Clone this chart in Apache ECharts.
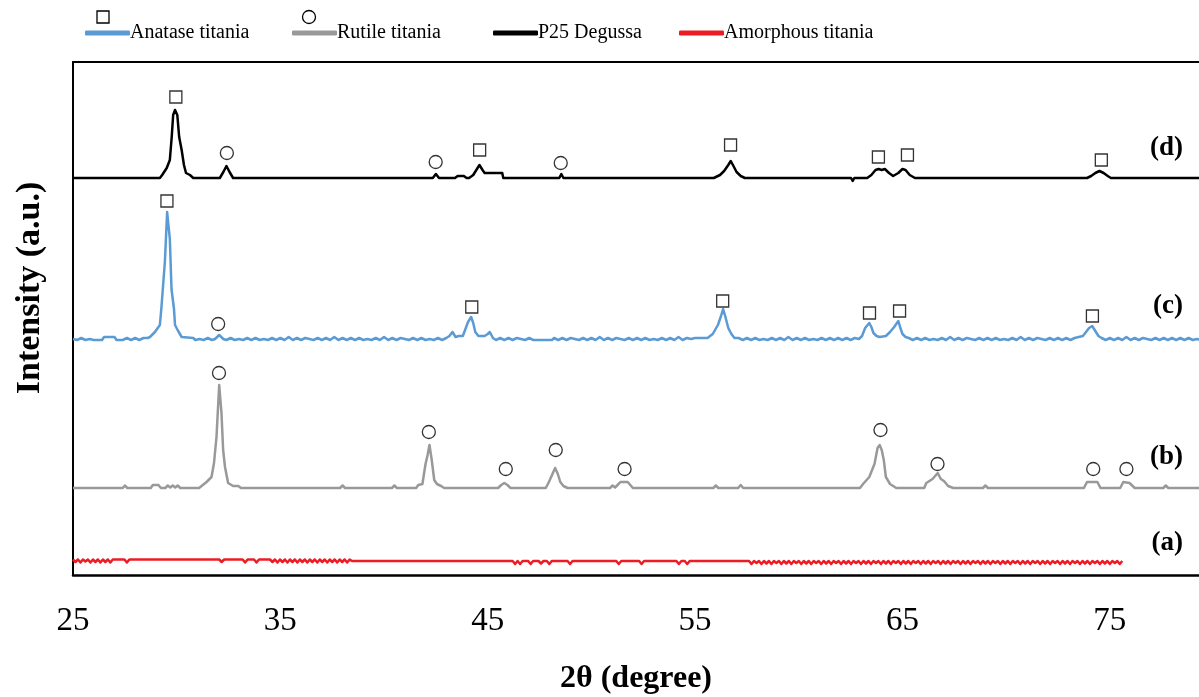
<!DOCTYPE html>
<html>
<head>
<meta charset="utf-8">
<script src="https://cdn.jsdelivr.net/npm/echarts@6/dist/echarts.min.js"></script>
<style>
  html, body { margin: 0; padding: 0; background: #fff; }
  #chart { width: 1199px; height: 697px; }
</style>
</head>
<body>
<div id="chart"></div>
<script>
// XRD patterns of four titania samples, stacked with a vertical offset.
const FONT = '"Liberation Serif", "DejaVu Serif", serif';

const seriesNames = ['Anatase titania', 'Rutile titania', 'P25 Degussa', 'Amorphous titania'];
const seriesColors = ['#5B9BD5', '#999999', '#000000', '#ED1C24'];
const panelTags = ['(c)', '(b)', '(d)', '(a)'];
// baseline of each pattern on the intensity axis (a.u.)
const stackOffsets = [235, 87, 397, 14];

// [2θ (degree), intensity above own baseline (a.u.)]
const anataseTrace = [
  [25.0,1],[25.2,0],[25.4,2],[25.6,0],[25.8,1],[26.0,0],[26.4,0],[26.5,3],[27.0,3],[27.1,0],[27.4,0],[27.6,2],
  [27.8,0],[28.0,2],[28.2,0],[28.4,2],[28.6,2],[28.71,3],[28.95,8],[29.19,15],[29.27,34],[29.43,78],[29.54,128],
  [29.67,101],[29.75,51],[29.87,31],[29.92,15],[30.07,9],[30.24,3],[30.8,2],[30.9,0],[31.1,1],[31.3,0],
  [31.5,2],[31.7,0],[31.85,1],[32.05,5],[32.25,1],[32.4,0],[32.6,2],[32.8,0],[33.0,1],[33.2,0],[33.4,2],[33.6,0],
  [33.8,2],[34.0,0],[34.2,1],[34.4,0],[34.6,2],[34.8,0],[35.0,2],[35.2,0],[35.4,3],[35.6,0],[35.8,2],[36.0,0],
  [36.2,2],[36.4,1],[36.6,0],[36.8,2],[37.0,0],[37.2,2],[37.4,0],[37.6,3],[37.8,0],[38.0,2],[38.2,0],[38.4,2],
  [38.6,0],[38.8,2],[39.0,0],[39.2,1],[39.4,0],[39.6,2],[39.8,0],[40.0,3],[40.2,0],[40.4,2],[40.6,0],[40.8,2],
  [41.0,1],[41.2,0],[41.4,2],[41.6,0],[41.8,2],[42.0,0],[42.2,1],[42.4,0],[42.6,2],[42.8,0],[43.0,2],[43.15,4],
  [43.3,8],[43.45,3],[43.6,4],[43.8,4],[44.05,18],[44.2,23],[44.3,17],[44.4,8],[44.55,4],[44.85,4],[45.0,6],
  [45.1,8],[45.25,2],[45.4,0],[45.6,2],[45.8,0],[46.0,2],[46.2,0],[46.4,2],[46.6,1],[46.8,0],[47.0,2],[47.2,0],
  [48.1,0],[48.2,2],[48.4,0],[48.6,2],[48.8,0],[49.0,2],[49.2,1],[49.4,0],[49.6,2],[49.8,0],[50.0,2],[50.2,0],
  [50.4,3],[50.6,0],[50.8,2],[51.0,0],[51.2,2],[51.4,1],[51.6,0],[51.8,2],[52.0,0],[52.2,2],[52.4,0],[52.6,2],
  [52.8,0],[53.0,1],[53.2,0],[53.4,2],[53.6,0],[53.8,2],[54.0,0],[54.2,3],[54.4,0],[54.6,2],[54.8,1],[55.0,2],
  [55.6,2],[55.85,6],[56.1,15],[56.25,24],[56.35,31],[56.45,24],[56.6,12],[56.75,6],[56.9,2],[57.1,2],[57.3,0],
  [57.5,2],[57.7,0],[57.9,2],[58.1,0],[58.3,1],[58.5,0],[58.7,2],[58.9,0],[59.1,2],[59.3,0],[59.5,3],[59.7,0],
  [59.9,2],[60.1,0],[60.3,2],[60.5,0],[60.7,1],[60.9,0],[61.1,2],[61.3,0],[61.5,2],[61.7,0],[61.9,2],[62.1,0],
  [62.3,2],[62.5,0],[62.7,2],[62.9,1],[63.05,4],[63.2,12],[63.4,17],[63.5,13],[63.6,7],[63.75,4],[63.9,3],
  [64.2,4],[64.4,8],[64.6,13],[64.8,19],[64.9,12],[65.0,6],[65.15,3],[65.3,2],[65.5,0],[65.7,2],[65.9,0],
  [66.1,2],[66.3,0],[66.5,1],[66.7,0],[66.9,2],[67.1,0],[67.3,3],[67.5,0],[67.7,2],[67.9,0],[68.1,2],[68.3,1],
  [68.5,0],[68.7,2],[68.9,0],[69.1,2],[69.3,0],[69.5,2],[69.7,0],[69.9,1],[70.1,0],[70.3,2],[70.5,0],[70.7,3],
  [70.9,0],[71.1,2],[71.3,0],[71.5,2],[71.7,1],[71.9,0],[72.1,2],[72.3,0],[72.5,2],[72.7,0],[72.9,2],[73.1,0],
  [73.3,2],[73.5,3],[73.7,4],[73.85,8],[74.0,12],[74.15,14],[74.3,9],[74.45,4],[74.6,2],[74.8,0],[75.0,2],
  [75.2,0],[75.4,2],[75.6,0],[75.8,3],[76.0,0],[76.2,2],[76.4,0],[76.6,2],[76.8,1],[77.0,0],[77.2,2],[77.4,0],
  [77.6,2],[77.8,0],[78.0,2],[78.2,0],[78.4,2],[78.6,0],[78.8,2],[79.0,0],[79.2,1],[79.4,0],[79.6,2],[79.8,0],[80.0,2]
];

const rutileTrace = [
  [25,0],[27.4,0],[27.5,2.5],[27.62,0],[28.75,0],[28.85,3],[29.12,3],[29.24,0],[29.45,0],[29.57,2.5],[29.69,0.5],
  [29.81,2.5],[29.93,0.5],[30.05,2.5],[30.17,0],[31.08,0],[31.2,2],[31.44,6],[31.68,11],[31.8,25],
  [31.92,51],[32.05,103],[32.16,75],[32.24,38],[32.33,21],[32.48,5],[32.72,2],[32.97,2],[33.1,0],[37.88,0],
  [38.0,2.5],[38.12,0],[40.38,0],[40.5,2.5],[40.62,0],[41.55,0],[41.65,3],[41.85,4],[42.0,24],[42.1,33],[42.19,43],
  [42.3,28],[42.42,8],[42.55,4],[42.75,2],[42.9,0],[45.5,0],[45.65,3],[45.8,5],[45.95,3],[46.1,0],[47.8,0],
  [47.95,6],[48.1,13],[48.25,20],[48.38,14],[48.5,6],[48.65,2],[48.85,0],[50.9,0],[51.02,2.5],[51.14,0.5],[51.26,3],
  [51.4,6],[51.75,6],[52.0,0],[55.88,0],[56.0,2.5],[56.12,0],[57.08,0],[57.2,3],[57.32,0],[62.95,0],[63.1,4],
  [63.4,11],[63.65,24],[63.8,40],[63.9,43],[64.0,38],[64.1,28],[64.2,11],[64.4,4],[64.7,0],[66.05,0],[66.15,5],
  [66.45,9],[66.7,15],[66.85,9],[67.0,7],[67.2,2],[67.45,0],[68.88,0],[69.0,2.5],[69.12,0],[73.75,0],[73.9,6],
  [74.4,6],[74.55,0],[75.5,0],[75.65,6],[75.95,5],[76.2,0],[77.58,0],[77.7,2.5],[77.82,0],[80,0]
];

const p25Trace = [
  [25,0],[29.19,0],[29.3,3],[29.52,10],[29.67,18],[29.76,41],[29.83,63],[29.92,68],[30.03,63],[30.12,41],
  [30.24,28],[30.35,13],[30.45,5],[30.64,3],[30.8,0],[32.08,0],[32.25,6],[32.4,12],[32.55,6],[32.72,0],
  [42.35,0],[42.5,4],[42.65,0],[43.42,0],[43.55,2],[43.85,2],[43.98,0],[44.1,0],[44.3,3],[44.45,8],[44.6,13],
  [44.75,8],[44.85,5],[45.7,5],[45.75,0],[48.45,0],[48.55,4],[48.65,0],[55.9,0],[56.2,3],[56.4,7],[56.6,13],
  [56.72,17],[56.85,12],[57.0,6],[57.2,2],[57.4,0],[62.52,0],[62.6,-3],[62.68,0],[63.3,0],[63.5,3],[63.7,8],
  [63.85,9],[64.0,8],[64.15,9],[64.35,5],[64.55,2],[64.8,5],[65.0,9],[65.15,8],[65.35,3],[65.6,0],[73.9,0],
  [74.1,2],[74.3,5],[74.5,7],[74.7,5],[74.9,2],[75.05,0],[80,0]
];

const amorphousTrace = [
  [25.0,1.5],[25.12,-1],[25.24,1.5],[25.36,-1.5],[25.48,1.5],[25.6,-0.5],[25.72,1.5],[25.84,-1.5],[25.96,1.5],
  [26.08,-1],[26.2,1.5],[26.32,-1.5],[26.44,1.5],[26.56,-1],[26.68,1.5],[26.8,-1.5],[26.92,1.5],[27.48,1.5],
  [27.6,-1.5],[27.72,1.5],[32.05,1.5],[32.17,-1],[32.29,1.5],[33.18,1.5],[33.3,-1.5],[33.42,1.5],[33.73,1.5],
  [33.85,-1.5],[33.97,1.5],[34.5,1.5],[34.62,-1],[34.74,1.5],[34.86,-1.5],[34.98,1.5],[35.1,-1],[35.22,1.5],
  [35.34,-1.5],[35.46,1.5],[35.58,-1],[35.7,1.5],[35.82,-1.5],[35.94,1.5],[36.06,-1],[36.18,1.5],[36.3,-1.5],
  [36.42,1.5],[36.54,-1],[36.66,1.5],[36.78,-1.5],[36.9,1.5],[37.02,-1],[37.14,1.5],[37.26,-1.5],[37.38,1.5],
  [37.5,-1],[37.62,1.5],[37.74,-1.5],[37.86,1.5],[37.98,-1],[38.1,1.5],[38.22,-1.5],[38.34,1.5],[38.46,0],
  [46.2,0],[46.32,-3],[46.44,0],[46.56,-3],[46.68,0],[46.95,0],[47.07,-3],[47.19,0],[47.45,0],[47.57,-2.5],
  [47.69,0],[47.85,0],[47.97,-3],[48.09,0],[48.85,0],[48.97,-3],[49.09,0],[51.2,0],[51.32,-3],[51.44,0],
  [52.3,0],[52.42,-3],[52.54,0],[54.1,0],[54.22,-3],[54.34,0],[54.5,0],[54.62,-3],[54.74,0],
  [57.6,0],[57.72,-3],[57.84,0],[57.96,-2],[58.08,0],[58.2,-3],[58.32,0],[58.44,-2.5],[58.56,0],[58.68,-3],
  [58.8,0],[58.92,-2],[59.04,0],[59.16,-3],[59.28,0],[59.4,-2.5],[59.52,0],[59.64,-3],[59.76,0],[59.88,-2],
  [60.0,0],[60.12,-3],[60.24,0],[60.36,-2.5],[60.48,0],[60.6,-3],[60.72,0],[60.84,-2],[60.96,0],[61.08,-3],
  [61.2,0],[61.32,-2.5],[61.44,0],[61.56,-3],[61.68,0],[61.8,-2],[61.92,0],[62.04,-3],[62.16,0],[62.28,-2.5],
  [62.4,0],[62.52,-3],[62.64,0],[62.76,-2],[62.88,0],[63.0,-3],[63.12,0],[63.24,-2.5],[63.36,0],[63.48,-3],
  [63.6,0],[63.72,-2],[63.84,0],[63.96,-3],[64.08,0],[64.2,-2.5],[64.32,0],[64.44,-3],[64.56,0],[64.68,-2],
  [64.8,0],[64.92,-3],[65.04,0],[65.16,-2.5],[65.28,0],[65.4,-3],[65.52,0],[65.64,-2],[65.76,0],[65.88,-3],
  [66.0,0],[66.12,-2.5],[66.24,0],[66.36,-3],[66.48,0],[66.6,-2],[66.72,0],[66.84,-3],[66.96,0],[67.08,-2.5],
  [67.2,0],[67.32,-3],[67.44,0],[67.56,-2],[67.68,0],[67.8,-3],[67.92,0],[68.04,-2.5],[68.16,0],[68.28,-3],
  [68.4,0],[68.52,-2],[68.64,0],[68.76,-3],[68.88,0],[69.0,-2.5],[69.12,0],[69.24,-3],[69.36,0],[69.48,-2],
  [69.6,0],[69.72,-3],[69.84,0],[69.96,-2.5],[70.08,0],[70.2,-3],[70.32,0],[70.44,-2],[70.56,0],[70.68,-3],
  [70.8,0],[70.92,-2.5],[71.04,0],[71.16,-3],[71.28,0],[71.4,-2],[71.52,0],[71.64,-3],[71.76,0],[71.88,-2.5],
  [72.0,0],[72.12,-3],[72.24,0],[72.36,-2],[72.48,0],[72.6,-3],[72.72,0],[72.84,-2.5],[72.96,0],[73.08,-3],
  [73.2,0],[73.32,-2],[73.44,0],[73.56,-3],[73.68,0],[73.8,-2.5],[73.92,0],[74.04,-3],[74.16,0],[74.28,-2],
  [74.4,0],[74.52,-3],[74.64,0],[74.76,-2.5],[74.88,0],[75.0,-3],[75.12,0],[75.24,-2],[75.36,0],[75.48,-3],
  [75.6,0]
];

// Reflection markers: □ anatase, ○ rutile — [2θ, height above own baseline]
const anataseSquares = [[29.53,139],[44.23,33],[56.33,39],[63.41,27],[64.86,29],[74.16,24]];
const anataseCircles = [[32.0,16]];
const rutileCircles = [[32.04,115],[42.16,56],[45.87,19],[48.28,38],[51.6,19],[63.94,58],[66.69,24],[74.2,19],[75.8,19]];
const p25Squares = [[29.96,81],[44.61,28],[56.71,33],[63.84,21],[65.24,23],[74.59,18]];
const p25Circles = [[32.42,25],[42.49,16],[48.52,15]];

const markerSets = [
  { trace: 0, symbol: 'rect', points: anataseSquares },
  { trace: 0, symbol: 'circle', points: anataseCircles },
  { trace: 1, symbol: 'circle', points: rutileCircles },
  { trace: 2, symbol: 'rect', points: p25Squares },
  { trace: 2, symbol: 'circle', points: p25Circles }
];

const traces = [anataseTrace, rutileTrace, p25Trace, amorphousTrace];

const lineSeries = traces.map((pts, i) => ({
  name: seriesNames[i],
  type: 'line',
  data: pts.map(p => [p[0], p[1] + stackOffsets[i]]),
  showSymbol: false,
  symbol: 'none',
  silent: true,
  lineStyle: { color: seriesColors[i], width: 2.5, join: 'round' },
  itemStyle: { color: seriesColors[i] },
  z: 2
}));

const markerSeries = markerSets.map(set => ({
  type: 'scatter',
  data: set.points.map(p => [p[0], p[1] + stackOffsets[set.trace]]),
  symbol: set.symbol,
  symbolSize: set.symbol === 'rect' ? 12 : 13,
  silent: true,
  itemStyle: { color: '#ffffff', borderColor: '#000000', borderWidth: 1.3 },
  z: 3
}));

// one legend box per entry so each sits at its own column
const legendLeft = [80, 287, 488, 674];
const legends = seriesNames.map((name, i) => ({
  data: [name],
  left: legendLeft[i],
  top: 18,
  icon: 'roundRect',
  itemWidth: 45,
  itemHeight: 5,
  itemGap: 0,
  selectedMode: false,
  textStyle: { fontFamily: FONT, fontSize: 20, color: '#000', padding: [0, 0, 0, -5] }
}));

const tagY = [306, 457, 148, 543];
const frameLine = { show: true, onZero: false, lineStyle: { color: '#000', width: 2 } };

const chart = echarts.init(document.getElementById('chart'), null, { renderer: 'canvas' });
chart.setOption({
  animation: false,
  backgroundColor: '#ffffff',
  legend: legends,
  grid: { left: 73, top: 62, right: 0, height: 513, outerBoundsMode: 'none', containLabel: false },
  xAxis: [
    {
      type: 'value',
      min: 25, max: 79.3, interval: 10,
      name: '2θ (degree)',
      nameLocation: 'middle',
      nameGap: 88,
      nameTextStyle: { fontFamily: FONT, fontSize: 32, fontWeight: 'bold', color: '#000' },
      axisLine: { show: true, onZero: false, lineStyle: { color: '#000', width: 2.5 } },
      axisTick: { show: false },
      splitLine: { show: false },
      axisLabel: { fontFamily: FONT, fontSize: 33, color: '#000', margin: 30, showMaxLabel: false }
    },
    {
      type: 'value', position: 'top',
      min: 25, max: 79.3,
      axisLine: frameLine,
      axisTick: { show: false },
      axisLabel: { show: false },
      splitLine: { show: false }
    }
  ],
  yAxis: {
    type: 'value',
    min: 0, max: 513,
    axisLine: frameLine,
    axisTick: { show: false },
    axisLabel: { show: false },
    splitLine: { show: false }
  },
  series: lineSeries.concat(markerSeries),
  graphic: [
    {
      type: 'text', x: 30, y: 288, rotation: Math.PI / 2,
      style: { text: 'Intensity (a.u.)', fontFamily: FONT, fontSize: 34, fontWeight: 'bold', fill: '#000', align: 'center', verticalAlign: 'middle' }
    },
    ...panelTags.map((t, i) => ({
      type: 'text', x: 1183, y: tagY[i],
      style: { text: t, fontFamily: FONT, fontSize: 27, fontWeight: 'bold', fill: '#000', align: 'right', verticalAlign: 'middle' }
    })),
    {
      type: 'rect', x: 103, y: 17,
      shape: { x: -6, y: -6, width: 12, height: 12 },
      style: { fill: '#fff', stroke: '#000', lineWidth: 1.3 }
    },
    {
      type: 'circle', x: 309, y: 17,
      shape: { cx: 0, cy: 0, r: 6.5 },
      style: { fill: '#fff', stroke: '#000', lineWidth: 1.3 }
    }
  ]
});
</script>
</body>
</html>
